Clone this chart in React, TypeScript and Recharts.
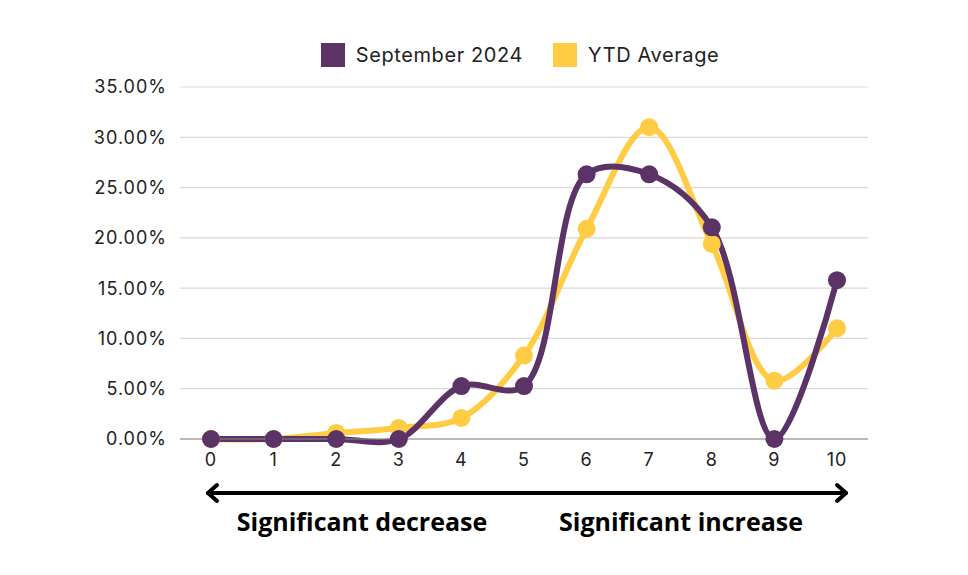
import React from "react";
import { LineChart, Line, XAxis, YAxis, CartesianGrid, Legend } from "recharts";

const SCORES = [0, 1, 2, 3, 4, 5, 6, 7, 8, 9, 10];
const SEPTEMBER = [0, 0, 0, 0, 5.26, 5.26, 26.32, 26.32, 21.05, 0, 15.79];
const YTD = [0, 0, 0.6, 1.1, 2.1, 8.3, 20.9, 31.0, 19.4, 5.8, 11.0];
const Y_TICKS = [0, 5, 10, 15, 20, 25, 30, 35];

const PURPLE = "#5c3366";
const YELLOW = "#ffcc44";
const FONT = "Inter, 'Open Sans', sans-serif";

const data = SCORES.map((s, i) => ({ score: s, sep: SEPTEMBER[i], ytd: YTD[i] }));

// centripetal catmull-rom, closer to how the original tool smooths its lines
function smooth(context: any) {
  let pts: number[][] = [];
  const alpha = 0.5;
  const la = (p: number[], q: number[]) => Math.pow(Math.hypot(q[0] - p[0], q[1] - p[1]), alpha);
  return {
    areaStart() {},
    areaEnd() {},
    lineStart() {
      pts = [];
    },
    point(x: number, y: number) {
      pts.push([+x, +y]);
    },
    lineEnd() {
      if (!pts.length) return;
      context.moveTo(pts[0][0], pts[0][1]);
      for (let i = 0; i < pts.length - 1; i++) {
        const p0 = pts[i - 1];
        const p1 = pts[i];
        const p2 = pts[i + 1];
        const p3 = pts[i + 2];
        const l12 = la(p1, p2);
        let c1 = [p1[0], p1[1]];
        let c2 = [p2[0], p2[1]];
        if (p0) {
          const l01 = la(p0, p1);
          if (l01 > 1e-6) {
            const a = 2 * l01 * l01 + 3 * l01 * l12 + l12 * l12;
            const n = 3 * l01 * (l01 + l12);
            c1 = [0, 1].map((k) => (p1[k] * a - p0[k] * l12 * l12 + p2[k] * l01 * l01) / n);
          }
        }
        if (p3) {
          const l23 = la(p2, p3);
          if (l23 > 1e-6) {
            const b = 2 * l23 * l23 + 3 * l23 * l12 + l12 * l12;
            const m = 3 * l23 * (l23 + l12);
            c2 = [0, 1].map((k) => (p2[k] * b + p1[k] * l23 * l23 - p3[k] * l12 * l12) / m);
          }
        }
        context.bezierCurveTo(c1[0], c1[1], c2[0], c2[1], p2[0], p2[1]);
      }
    },
  };
}

function LegendBox() {
  const items = [
    { name: "September 2024", color: PURPLE },
    { name: "YTD Average", color: YELLOW },
  ];
  return (
    <div style={{ display: "flex", justifyContent: "center", gap: 30, fontFamily: FONT, fontSize: 20, letterSpacing: 0.6, color: "#222", height: 30, alignItems: "center", paddingLeft: 72 }}>
      {items.map((it) => (
        <div key={it.name} style={{ display: "flex", alignItems: "center", gap: 11 }}>
          <span style={{ width: 24, height: 24, background: it.color, display: "inline-block" }} />
          <span>{it.name}</span>
        </div>
      ))}
    </div>
  );
}

export default function App() {
  const tickStyle = { fill: "#222", fontSize: 18, fontFamily: FONT, letterSpacing: 1 };
  return (
    <div style={{ position: "absolute", left: 0, top: 0, width: 968, height: 575, background: "#fff" }}>
      <LineChart width={968} height={575} data={data} margin={{ top: 57, right: 100, bottom: 106, left: 0 }}>
        <CartesianGrid vertical={false} stroke="#d9d9d9" strokeWidth={1.2} />
        <Legend verticalAlign="top" content={() => <LegendBox />} wrapperStyle={{ top: 40, left: 0, width: 968 }} />
        <XAxis
          dataKey="score"
          padding={{ left: 31, right: 31 }}
          tickLine={false}
          stroke="#888"
          height={30}
          tickMargin={8}
          tick={tickStyle}
        />
        <YAxis
          domain={[0, 35]}
          ticks={Y_TICKS}
          width={180}
          axisLine={false}
          tickLine={false}
          tickSize={0}
          tickMargin={13}
          tickFormatter={(v: number) => v.toFixed(2) + "%"}
          tick={tickStyle}
        />
        <Line
          dataKey="ytd"
          name="YTD Average"
          type={smooth as any}
          stroke={YELLOW}
          strokeWidth={6}
          dot={{ r: 9, fill: YELLOW, stroke: YELLOW, strokeWidth: 0 }}
          isAnimationActive={false}
        />
        <Line
          dataKey="sep"
          name="September 2024"
          type={smooth as any}
          stroke={PURPLE}
          strokeWidth={6}
          dot={{ r: 9, fill: PURPLE, stroke: PURPLE, strokeWidth: 0 }}
          isAnimationActive={false}
        />
      </LineChart>
      <svg width={968} height={575} style={{ position: "absolute", left: 0, top: 0, pointerEvents: "none" }}>
        <g stroke="#000" strokeWidth={4} fill="none" strokeLinecap="round" strokeLinejoin="round">
          <line x1={208} y1={493} x2={846} y2={493} />
          <polyline points="217,485 208,493 217,501" />
          <polyline points="837,485 846,493 837,501" />
        </g>
        <g fontFamily="'Open Sans', sans-serif" fontWeight={700} fontSize={25} fill="#000" textAnchor="middle">
          <text x={362} y={531}>Significant decrease</text>
          <text x={681} y={531}>Significant increase</text>
        </g>
      </svg>
    </div>
  );
}
